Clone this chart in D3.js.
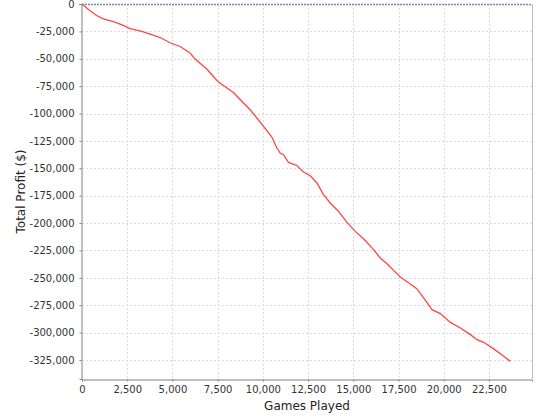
<!DOCTYPE html>
<html><head><meta charset="utf-8">
<script src="https://cdn.jsdelivr.net/npm/d3@7"></script>
<style>body{margin:0;background:#fff}svg{display:block}</style>
</head><body><svg id="c" width="540" height="420"></svg>
<script>
const games = [0,443,813,1179,1732,2286,2656,3210,3763,4317,4870,5423,5977,6254,6624,6901,7266,7543,7820,8373,8926,9297,9668,10033,10498,10775,10957,11140,11417,11882,12064,12247,12618,12988,13354,13724,14184,14649,15108,15567,16121,16491,16862,17227,17598,18151,18522,18888,19353,19812,20365,20919,21472,21843,22208,22761,23315,23685];
const profit = [0,-6200,-10500,-13500,-16200,-19600,-22400,-24500,-27500,-30600,-35400,-38800,-44800,-50300,-55500,-59400,-66200,-71300,-74400,-80800,-90400,-96600,-104100,-111800,-121500,-131500,-136100,-137600,-144600,-147400,-150700,-153400,-156800,-163400,-174100,-181700,-189400,-199400,-207600,-214300,-224300,-231900,-237100,-243200,-249200,-255600,-260200,-268400,-279100,-282700,-290700,-295800,-301900,-306500,-308900,-314900,-321700,-326300];
const xTicks = [0,2500,5000,7500,10000,12500,15000,17500,20000,22500];
const yTicks = [0,-25000,-50000,-75000,-100000,-125000,-150000,-175000,-200000,-225000,-250000,-275000,-300000,-325000];

const L=82,R=532,T=4,B=379;
const x=d3.scaleLinear().domain([0,24880]).range([L,R]);
const y=d3.scaleLinear().domain([-342400,0]).range([B,T]);
const svg=d3.select("#c");
const fmt=d3.format(",");
const font="DejaVu Sans, sans-serif";

// grid
svg.append("g").selectAll("line").data(xTicks.slice(1)).join("line")
  .attr("x1",d=>Math.round(x(d))+0.5).attr("x2",d=>Math.round(x(d))+0.5).attr("y1",T).attr("y2",B)
  .attr("stroke","#dcdcdc").attr("stroke-dasharray","2,2");
svg.append("g").selectAll("line").data(yTicks.slice(1)).join("line")
  .attr("x1",L).attr("x2",R).attr("y1",d=>Math.round(y(d))+0.5).attr("y2",d=>Math.round(y(d))+0.5)
  .attr("stroke","#dcdcdc").attr("stroke-dasharray","2,2");

// right border
svg.append("line").attr("x1",R+0.5).attr("x2",R+0.5).attr("y1",T).attr("y2",B).attr("stroke","#bbbbbb");

// zero line
svg.append("line").attr("x1",L).attr("x2",R).attr("y1",Math.round(y(0))+0.5).attr("y2",Math.round(y(0))+0.5)
  .attr("stroke","#8080b8").attr("stroke-width",1.4).attr("stroke-dasharray","2,1");

// axes
const xa=svg.append("g").attr("transform",`translate(0,${B+0.5})`)
  .call(d3.axisBottom(x).tickValues(xTicks).tickFormat(fmt).tickSize(2).tickPadding(4));
const ya=svg.append("g").attr("transform",`translate(${L-0.5},0)`)
  .call(d3.axisLeft(y).tickValues(yTicks).tickFormat(d=>d3.format(",")(d).replace("−","-")).tickSize(2).tickPadding(5));
[xa,ya].forEach(a=>{
  a.selectAll("path").attr("stroke","#808080");
  a.selectAll("line").attr("stroke","#808080");
  a.selectAll("text").attr("font-family",font).attr("font-size",10).attr("fill","#333");
});

// data line
const pts=games.map((g,i)=>[g,profit[i]]);
svg.append("path").datum(pts)
  .attr("d",d3.line().x(d=>x(d[0])).y(d=>y(d[1])))
  .attr("fill","none").attr("stroke","#ff4545").attr("stroke-width",1.3);

// labels
svg.append("text").attr("x",(L+R)/2).attr("y",410).attr("text-anchor","middle")
  .attr("font-family",font).attr("font-size",12).attr("fill","#222").text("Games Played");
svg.append("text").attr("transform",`translate(25,${(T+B)/2}) rotate(-90)`).attr("text-anchor","middle")
  .attr("font-family",font).attr("font-size",12).attr("fill","#222").text("Total Profit ($)");
</script></body></html>
